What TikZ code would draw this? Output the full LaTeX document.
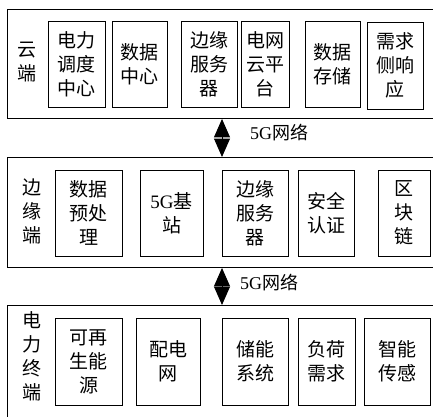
\documentclass[tikz,border=0pt]{standalone}
\usepackage{fontspec}
\setmainfont{Liberation Serif}
\newfontfamily\cjk{Noto Sans CJK SC}
\newfontfamily\lat{Liberation Serif}
\usetikzlibrary{arrows.meta}
\tikzset{
  outerbox/.style={draw, line width=0.9pt, inner sep=0pt, anchor=north west},
  inbox/.style={draw, line width=0.9pt, inner sep=0pt, align=center,
    font=\cjk\fontsize{19}{24}\selectfont},
  sidelabel/.style={inner sep=0pt, align=center, font=\cjk\fontsize{19}{24}\selectfont},
  netlabel/.style={inner sep=0pt, anchor=west, font=\cjk\fontsize{18}{22}\selectfont},
  dblarrow/.style={line width=1pt, {Triangle[length=18.5pt,width=16pt]}-{Triangle[length=18.5pt,width=16pt]}, shorten <=0pt, shorten >=0pt}
}
\begin{document}
\begin{tikzpicture}[x=1pt,y=-1pt]
\clip (0,0) rectangle (433,416);
\fill[white] (0,0) rectangle (433,416);
% outer containers
\node[outerbox, minimum width=440pt, minimum height=109pt] (cloud) at (7,9) {};
\node[outerbox, minimum width=440pt, minimum height=110pt] (edge) at (7,157) {};
\node[outerbox, minimum width=440pt, minimum height=125pt] (term) at (7,305) {};
% side labels
\node[sidelabel] (lc) at (27,62) {云\\端};
\node[sidelabel] (le) at (32,211) {边\\缘\\端};
\node[sidelabel] (lt) at (32,356) {电\\力\\终\\端};
% cloud row
\node[inbox, minimum width=57pt, minimum height=86pt] (a1) at (76.5,64) {电力\\调度\\中心};
\node[inbox, minimum width=55pt, minimum height=86pt] (a2) at (139.5,64) {数据\\中心};
\node[inbox, minimum width=56pt, minimum height=86pt] (a3) at (209,64) {边缘\\服务\\器};
\node[inbox, minimum width=48pt, minimum height=86pt] (a4) at (265,64) {电网\\云平\\台};
\node[inbox, minimum width=55pt, minimum height=86pt] (a5) at (332.5,64) {数据\\存储};
\node[inbox, minimum width=56pt, minimum height=87pt] (a6) at (395,65.5) {需求\\侧响\\应};
% edge row
\node[inbox, minimum width=67pt, minimum height=86pt] (b1) at (88.5,213) {数据\\预处\\理};
\node[inbox, minimum width=63pt, minimum height=86pt] (b2) at (171.5,213) {{\lat 5G}基\\站};
\node[inbox, minimum width=66pt, minimum height=86pt] (b3) at (255,213) {边缘\\服务\\器};
\node[inbox, minimum width=56pt, minimum height=86pt] (b4) at (326,213) {安全\\认证};
\node[inbox, minimum width=52pt, minimum height=86pt] (b5) at (404,213) {区\\块\\链};
% terminal row
\node[inbox, minimum width=67pt, minimum height=87pt] (c1) at (88.5,361.5) {可再\\生能\\源};
\node[inbox, minimum width=64pt, minimum height=87pt] (c2) at (168,361.5) {配电\\网};
\node[inbox, minimum width=66pt, minimum height=87pt] (c3) at (255,361.5) {储能\\系统};
\node[inbox, minimum width=57pt, minimum height=87pt] (c4) at (326.5,361.5) {负荷\\需求};
\node[inbox, minimum width=66pt, minimum height=87pt] (c5) at (397,361.5) {智能\\传感};
% links
\coordinate (ax) at (222,0);
\draw[dblarrow] (cloud.south -| ax) -- (edge.north -| ax);
\draw[dblarrow] (edge.south -| ax) -- (term.north -| ax);
\node[netlabel] (n1) at (250,133) {{\lat 5G}网络};
\node[netlabel] (n2) at (240,283) {{\lat 5G}网络};
\end{tikzpicture}
\end{document}
